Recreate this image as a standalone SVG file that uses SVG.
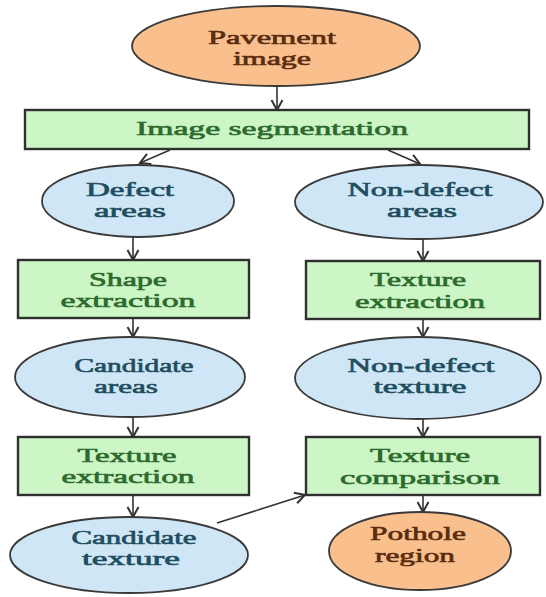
<svg xmlns="http://www.w3.org/2000/svg" width="546" height="597" viewBox="0 0 546 597">
<defs>
<marker id="ah" markerUnits="userSpaceOnUse" markerWidth="14" markerHeight="14" viewBox="0 0 14 14" refX="12" refY="7" orient="auto">
<path d="M2,1.5 L12,7 L2,12.5" fill="none" stroke="#333" stroke-width="2"/>
</marker>
<style>
.orange{fill:#F9C08E;stroke:#3a3a3a;stroke-width:1.8}
.blue{fill:#CFE6F7;stroke:#3a3a3a;stroke-width:1.8}
.green{fill:#CCF6C6;stroke:#2f2f2f;stroke-width:2.4}
text{font-family:"Liberation Serif","Times New Roman",serif;font-size:18px;text-anchor:middle;stroke-width:0.6}
.to{fill:#5b2c0f;stroke:#5b2c0f}
.tu{fill:#1f4e5f;stroke:#1f4e5f}
.tg{fill:#2d6a2d;stroke:#2d6a2d}
.conn line{stroke:#333;stroke-width:1.6;marker-end:url(#ah)}
</style>
</defs>
<rect width="546" height="597" fill="#ffffff"/>
<g class="conn" id="connectors">
<line x1="277" y1="86" x2="277" y2="110"/>
<line x1="170" y1="150" x2="140" y2="163"/>
<line x1="388" y1="150" x2="420" y2="164"/>
<line x1="133" y1="237" x2="133" y2="260"/>
<line x1="423" y1="239" x2="423" y2="261"/>
<line x1="133" y1="318" x2="133" y2="337"/>
<line x1="423" y1="319" x2="423" y2="337"/>
<line x1="133" y1="417" x2="133" y2="437"/>
<line x1="423" y1="419" x2="423" y2="437"/>
<line x1="133" y1="495" x2="133" y2="517"/>
<line x1="423" y1="495" x2="423" y2="512"/>
<line x1="217" y1="523" x2="305" y2="495"/>
</g>
<g id="pavement-image">
<ellipse class="orange" cx="276" cy="46" rx="144" ry="40"/>
<text class="to" x="272" y="44" textLength="128" lengthAdjust="spacingAndGlyphs">Pavement</text>
<text class="to" x="272" y="65" textLength="78" lengthAdjust="spacingAndGlyphs">image</text>
</g>
<g id="image-segmentation">
<rect class="green" x="25" y="110" width="504" height="39"/>
<text class="tg" x="272" y="135" textLength="272" lengthAdjust="spacingAndGlyphs">Image segmentation</text>
</g>
<g id="defect-areas">
<ellipse class="blue" cx="138" cy="201" rx="96" ry="36"/>
<text class="tu" x="130" y="196" textLength="88" lengthAdjust="spacingAndGlyphs">Defect</text>
<text class="tu" x="130" y="217" textLength="72" lengthAdjust="spacingAndGlyphs">areas</text>
</g>
<g id="non-defect-areas">
<ellipse class="blue" cx="419" cy="202" rx="124" ry="37"/>
<text class="tu" x="420" y="196" textLength="145" lengthAdjust="spacingAndGlyphs">Non-defect</text>
<text class="tu" x="422" y="217" textLength="70" lengthAdjust="spacingAndGlyphs">areas</text>
</g>
<g id="shape-extraction">
<rect class="green" x="18" y="260" width="231" height="58"/>
<text class="tg" x="128" y="286" textLength="78" lengthAdjust="spacingAndGlyphs">Shape</text>
<text class="tg" x="128" y="307" textLength="135" lengthAdjust="spacingAndGlyphs">extraction</text>
</g>
<g id="texture-extraction-right">
<rect class="green" x="306" y="261" width="234" height="58"/>
<text class="tg" x="418" y="286" textLength="96" lengthAdjust="spacingAndGlyphs">Texture</text>
<text class="tg" x="420" y="308" textLength="130" lengthAdjust="spacingAndGlyphs">extraction</text>
</g>
<g id="candidate-areas">
<ellipse class="blue" cx="130" cy="377" rx="115" ry="40"/>
<text class="tu" x="134" y="372" textLength="119" lengthAdjust="spacingAndGlyphs">Candidate</text>
<text class="tu" x="126" y="393" textLength="64" lengthAdjust="spacingAndGlyphs">areas</text>
</g>
<g id="non-defect-texture">
<ellipse class="blue" cx="418" cy="378" rx="123" ry="41"/>
<text class="tu" x="421" y="372" textLength="147" lengthAdjust="spacingAndGlyphs">Non-defect</text>
<text class="tu" x="420" y="393" textLength="93" lengthAdjust="spacingAndGlyphs">texture</text>
</g>
<g id="texture-extraction-left">
<rect class="green" x="18" y="437" width="231" height="58"/>
<text class="tg" x="127" y="462" textLength="99" lengthAdjust="spacingAndGlyphs">Texture</text>
<text class="tg" x="128" y="483" textLength="133" lengthAdjust="spacingAndGlyphs">extraction</text>
</g>
<g id="texture-comparison">
<rect class="green" x="306" y="437" width="234" height="58"/>
<text class="tg" x="420" y="462" textLength="100" lengthAdjust="spacingAndGlyphs">Texture</text>
<text class="tg" x="420" y="484" textLength="160" lengthAdjust="spacingAndGlyphs">comparison</text>
</g>
<g id="candidate-texture">
<ellipse class="blue" cx="129" cy="555" rx="119" ry="38"/>
<text class="tu" x="134" y="544" textLength="125" lengthAdjust="spacingAndGlyphs">Candidate</text>
<text class="tu" x="131" y="565" textLength="98" lengthAdjust="spacingAndGlyphs">texture</text>
</g>
<g id="pothole-region">
<ellipse class="orange" cx="420" cy="551" rx="91" ry="39"/>
<text class="to" x="418" y="540" textLength="96" lengthAdjust="spacingAndGlyphs">Pothole</text>
<text class="to" x="415" y="562" textLength="80" lengthAdjust="spacingAndGlyphs">region</text>
</g>
</svg>
